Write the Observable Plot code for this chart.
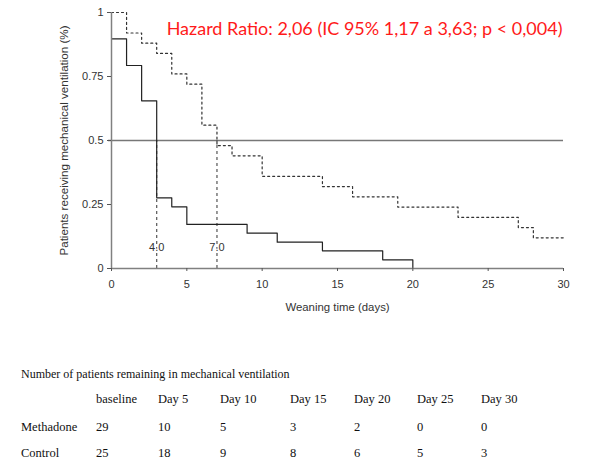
<!DOCTYPE html>
<html>
<head>
<meta charset="utf-8">
<script src="https://cdn.jsdelivr.net/npm/d3@7"></script>
<script src="https://cdn.jsdelivr.net/npm/@observablehq/plot@0.6"></script>
<style>
  html, body { margin: 0; padding: 0; background: #fff; }
  #wrap { position: relative; width: 600px; height: 473px; overflow: hidden; }
  #table div { position: absolute; font-family: "Liberation Serif", "Times New Roman", serif; font-size: 12.5px; line-height: 15px; color: #111; white-space: nowrap; }
  #table div.ttl { font-size: 12px; }
</style>
</head>
<body>
<div id="wrap"><div id="chart"></div><div id="table"></div></div>
<script>
// ---- data ----
const methadoneDays = [0, 1, 2, 3, 4, 5, 9, 11, 14, 18, 20, 30];
const methadoneProp = [0.897, 0.793, 0.655, 0.276, 0.241, 0.172, 0.138, 0.103, 0.069, 0.034, 0, 0];
const controlDays = [0, 1, 2, 3, 4, 5, 6, 7, 8, 10, 14, 16, 19, 23, 27, 28, 30];
const controlProp = [1, 0.92, 0.88, 0.84, 0.76, 0.72, 0.56, 0.48, 0.44, 0.36, 0.32, 0.28, 0.24, 0.20, 0.16, 0.12, 0.12];
const medianDays = [3, 7];
const medianLabels = ["4.0", "7.0"];
const yTicks = [0, 0.25, 0.5, 0.75, 1];
const xTicks = [0, 5, 10, 15, 20, 25, 30];
const titleText = "Hazard Ratio: 2,06 (IC 95% 1,17 a 3,63; p < 0,004)";
const tableTitle = "Number of patients remaining in mechanical ventilation";
const tableColumns = ["baseline", "Day 5", "Day 10", "Day 15", "Day 20", "Day 25", "Day 30"];
const tableGroups = ["Methadone", "Control"];
const tableMethadone = [29, 10, 5, 3, 2, 0, 0];
const tableControl = [25, 18, 9, 8, 6, 5, 3];

const methadone = methadoneDays.map((d, i) => ({day: d, p: methadoneProp[i]}));
const control = controlDays.map((d, i) => ({day: d, p: controlProp[i]}));
const medians = medianDays.map((d, i) => ({day: d, label: medianLabels[i]}));

const axisColor = "#808080";
const font = "'Liberation Sans', Arial, sans-serif";

const chart = Plot.plot({
  width: 600,
  height: 330,
  marginLeft: 111,
  marginRight: 37,
  marginTop: 12,
  marginBottom: 62,
  style: {fontFamily: font, fontSize: "11px", color: "#333", background: "#fff"},
  x: {domain: [0, 30]},
  y: {domain: [0, 1]},
  marks: [
    Plot.ruleY([0.5], {x1: -0.2, x2: 30, stroke: "#777", strokeWidth: 1.5}),
    Plot.ruleX(medians, {x: "day", y1: 0, y2: 0.5, stroke: "#555", strokeWidth: 1.2, strokeDasharray: "3,3"}),
    Plot.line(control, {x: "day", y: "p", curve: "step-after", stroke: "#333", strokeWidth: 1.2, strokeDasharray: "2,3"}),
    Plot.line(methadone, {x: "day", y: "p", curve: "step-after", stroke: "#222", strokeWidth: 1.2}),
    Plot.text(medians, {x: "day", y: 0.083, text: "label", fill: "#333", fontSize: 11, stroke: "white", strokeWidth: 2}),
    Plot.ruleX([0], {stroke: axisColor, strokeWidth: 1.5}),
    Plot.ruleY([0], {stroke: axisColor, strokeWidth: 1.5}),
    Plot.axisY({ticks: yTicks, tickFormat: d => String(d), tickSize: 4, tickPadding: 4, label: null, stroke: "#555"}),
    Plot.axisX({ticks: xTicks, tickFormat: d => String(d), tickSize: 3, tickPadding: 9, label: null, stroke: "#555"}),
    Plot.text(["Patients receiving mechanical ventilation (%)"], {frameAnchor: "left", textAnchor: "middle", rotate: -90, dx: -47, fontSize: 11.6, fill: "#333"}),
    Plot.text(["Weaning time (days)"], {frameAnchor: "bottom", dy: 42, fontSize: 11.4, fill: "#333"}),
    Plot.text([titleText], {frameAnchor: "top-right", textAnchor: "end", dx: -1, dy: 10, fill: "#ff1a1a", fontSize: 18, fontFamily: "Lato, 'Open Sans', sans-serif"})
  ]
});
document.getElementById("chart").appendChild(chart);

// ---- table below the chart ----
const colLeft = [96, 158, 220, 290, 354, 417, 481];
const rowCenter = {title: 374, header: 399, Methadone: 427, Control: 453};
const tbl = document.getElementById("table");
function put(text, left, cy, cls) {
  const el = document.createElement("div");
  el.textContent = text;
  if (cls) el.className = cls;
  el.style.left = left + "px";
  el.style.top = (cy - 7.5) + "px";
  tbl.appendChild(el);
}
put(tableTitle, 21, rowCenter.title, "ttl");
tableColumns.forEach((c, i) => put(c, colLeft[i], rowCenter.header));
[tableMethadone, tableControl].forEach((vals, r) => {
  const g = tableGroups[r];
  put(g, 21, rowCenter[g]);
  vals.forEach((v, i) => put(String(v), colLeft[i], rowCenter[g]));
});
</script>
</body>
</html>
